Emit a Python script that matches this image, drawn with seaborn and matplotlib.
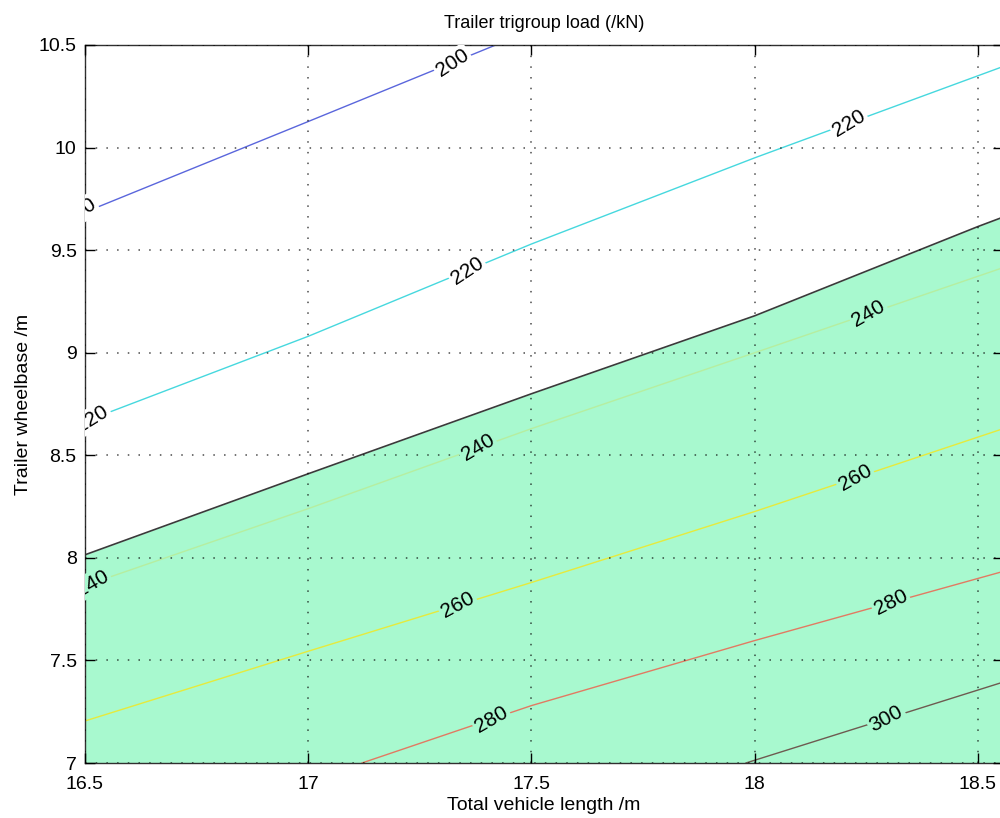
import numpy as np
import pandas as pd
import matplotlib
matplotlib.use("Agg")
import matplotlib.pyplot as plt
import seaborn as sns

# contour lines of trigroup load (x = total length, y = wheelbase)
levels = [200, 220, 240, 260, 280, 300]
line_x = {
    200: [16.5, 17.0, 17.42],
    220: [16.5, 17.0, 17.5, 18.0, 18.55],
    240: [16.5, 17.0, 17.5, 18.0, 18.55],
    260: [16.5, 17.0, 17.5, 18.0, 18.55],
    280: [17.12, 17.5, 18.0, 18.55],
    300: [17.98, 18.55],
}
line_y = {
    200: [9.685, 10.127, 10.5],
    220: [8.665, 9.08, 9.53, 9.95, 10.39],
    240: [7.865, 8.24, 8.63, 9.0, 9.41],
    260: [7.205, 7.545, 7.88, 8.226, 8.625],
    280: [7.0, 7.28, 7.597, 7.93],
    300: [7.0, 7.39],
}
# where the inline labels sit along each line
label_x = {
    200: [16.487, 17.323],
    220: [16.516, 17.356, 18.211],
    240: [16.516, 17.38, 18.255],
    260: [17.335, 18.225],
    280: [17.41, 18.305],
    300: [18.295],
}
# edge of the feasible (green) region
bound_x = [16.5, 17.0, 17.5, 18.0, 18.5, 18.555]
bound_y = [8.015, 8.41, 8.80, 9.18, 9.615, 9.66]

colors = {200: "#5a66dc", 220: "#46d8de", 240: "#b6eea0", 260: "#e6ea3c",
          280: "#e27a62", 300: "#6e5a50"}
green = "#a8f9cf"

rows = []
for lv in levels:
    for xx, yy in zip(line_x[lv], line_y[lv]):
        rows.append({"length": xx, "wheelbase": yy, "level": lv})
df = pd.DataFrame(rows)
df_bound = pd.DataFrame({"length": bound_x, "wheelbase": bound_y})

sns.set_theme(style="ticks")
plt.rcParams["font.family"] = ["Liberation Sans", "DejaVu Sans"]
plt.rcParams["text.color"] = "black"
plt.rcParams["xtick.color"] = "black"
plt.rcParams["ytick.color"] = "black"
plt.rcParams["axes.labelcolor"] = "black"

fig = plt.figure(figsize=(10, 8.18), dpi=100)
ax = fig.add_axes([0.085, 0.0672, 0.9175, 0.8778])
ax.set_xlim(16.5, 18.555)
ax.set_ylim(7, 10.5)

ax.fill_between(bound_x, 7.0, bound_y, color=green, lw=0, zorder=1)
sns.lineplot(data=df, x="length", y="wheelbase", hue="level", palette=colors,
             units="level", estimator=None, sort=False, legend=False,
             lw=1.0, ax=ax, zorder=2)
sns.lineplot(data=df_bound, x="length", y="wheelbase", color="#3a3a3a",
             sort=False, estimator=None, lw=1.2, ax=ax, zorder=2)

for lv in levels:
    xs = np.array(line_x[lv])
    ys = np.array(line_y[lv])
    for lx in label_x[lv]:
        ly = np.interp(lx, xs, ys)
        i = min(max(np.searchsorted(xs, lx), 1), len(xs) - 1)
        p0 = ax.transData.transform((xs[i - 1], ys[i - 1]))
        p1 = ax.transData.transform((xs[i], ys[i]))
        ang = np.degrees(np.arctan2(p1[1] - p0[1], p1[0] - p0[0])) + 11
        bg = "white" if ly > np.interp(lx, bound_x, bound_y) else green
        ax.text(lx, ly, str(lv), fontsize=15, ha="center", va="center",
                rotation=ang, rotation_mode="anchor",
                bbox=dict(boxstyle="square,pad=0.1", fc=bg, ec="none"),
                clip_on=True, zorder=4)

ax.set_xticks([16.5, 17, 17.5, 18, 18.5])
ax.set_xticklabels(["16.5", "17", "17.5", "18", "18.5"])
ax.set_yticks([7, 7.5, 8, 8.5, 9, 9.5, 10, 10.5])
ax.set_yticklabels(["7", "7.5", "8", "8.5", "9", "9.5", "10", "10.5"])
ax.grid(True, color="black", linestyle=(0, (1, 6)), lw=1.1, alpha=0.7)
ax.set_axisbelow(False)
ax.tick_params(direction="in", length=7, width=1, labelsize=14,
               top=True, right=True, pad=6)
ax.tick_params(axis="x", pad=9)
for sp in ax.spines.values():
    sp.set_color("#303030")
    sp.set_linewidth(1.0)

ax.set_title("Trailer trigroup load (/kN)", fontsize=13, pad=12)
ax.set_xlabel("Total vehicle length /m", fontsize=14, labelpad=3)
ax.set_ylabel("Trailer wheelbase /m", fontsize=14, labelpad=5)

fig.savefig("out.png", dpi=100)
